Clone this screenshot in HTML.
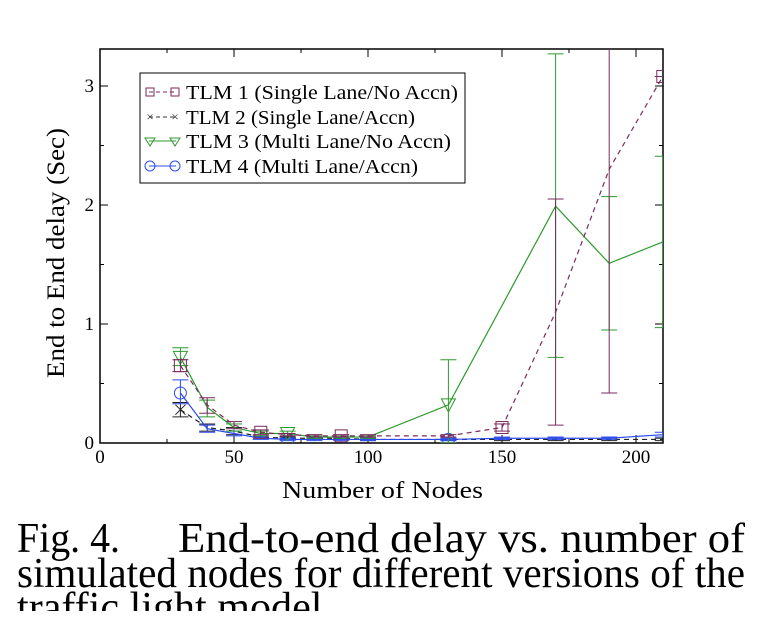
<!DOCTYPE html>
<html><head><meta charset="utf-8"><style>
html,body{margin:0;padding:0;background:#fff;}
svg{display:block;font-family:"Liberation Serif",serif;}
</style></head><body>
<svg id="chart" width="758" height="642" viewBox="0 0 758 642">
<defs><clipPath id="pc"><rect x="100" y="49" width="563" height="394"/></clipPath></defs>
<rect x="100" y="49" width="563" height="394" fill="none" stroke="#000" stroke-width="1.5"/>
<g id="axes"></g>
<g id="series" clip-path="url(#pc)"></g>
<g>
<rect x="140" y="73" width="325" height="110" fill="#fff" stroke="#000" stroke-width="1"/>
<g><line x1="149" y1="92" x2="176" y2="92" stroke="#7b2a5e" stroke-dasharray="4,3"/><rect x="146" y="88" width="8" height="8" fill="none" stroke="#7b2a5e"/><rect x="171" y="88" width="8" height="8" fill="none" stroke="#7b2a5e"/><text x="186" y="99" font-size="20" textLength="272" lengthAdjust="spacingAndGlyphs">TLM 1 (Single Lane/No Accn)</text></g>
<g><line x1="149" y1="117" x2="176" y2="117" stroke="#333" stroke-dasharray="4,3"/><text x="150" y="121" font-size="13" text-anchor="middle" fill="#333">×</text><text x="175" y="121" font-size="13" text-anchor="middle" fill="#333">×</text><text x="186" y="124" font-size="20" textLength="229" lengthAdjust="spacingAndGlyphs">TLM 2 (Single Lane/Accn)</text></g>
<g><line x1="149" y1="141" x2="176" y2="141" stroke="#2e9a2e"/><path d="M145 138 L155 138 L150 146 Z M170 138 L180 138 L175 146 Z" fill="none" stroke="#2e9a2e"/><text x="186" y="148" font-size="20" textLength="265" lengthAdjust="spacingAndGlyphs">TLM 3 (Multi Lane/No Accn)</text></g>
<g><line x1="149" y1="166" x2="176" y2="166" stroke="#2b4bf0"/><circle cx="150" cy="166" r="5" fill="none" stroke="#2b4bf0"/><circle cx="175" cy="166" r="5" fill="none" stroke="#2b4bf0"/><text x="186" y="173" font-size="20" textLength="232" lengthAdjust="spacingAndGlyphs">TLM 4 (Multi Lane/Accn)</text></g>
</g>
<text x="282" y="498" font-size="24" textLength="201" lengthAdjust="spacingAndGlyphs">Number of Nodes</text>
<text transform="translate(64,378) rotate(-90)" font-size="25" textLength="250" lengthAdjust="spacingAndGlyphs">End to End delay (Sec)</text>
<g font-size="42">
<text x="17" y="552" textLength="103" lengthAdjust="spacingAndGlyphs">Fig. 4.</text>
<text x="178" y="552" textLength="567" lengthAdjust="spacingAndGlyphs">End-to-end delay vs. number of</text>
<text x="17" y="587" textLength="728" lengthAdjust="spacingAndGlyphs">simulated nodes for different versions of the</text>
<text x="17" y="621" textLength="316" lengthAdjust="spacingAndGlyphs">traffic light model.</text>
</g>
<rect x="0" y="611" width="758" height="31" fill="#fff"/>
</svg>
<script>
const xs=[30,40,50,60,70,80,90,100,130,150,170,190,210];
const tlm1=[0.65,0.32,0.15,0.09,0.07,0.06,0.06,0.06,0.06,0.13,1.1,2.3,3.08];
const tlm2=[0.28,0.13,0.1,0.05,0.04,0.04,0.04,0.03,0.03,0.03,0.03,0.03,0.03];
const tlm3=[0.72,0.3,0.13,0.08,0.08,0.05,0.05,0.05,0.32,null,1.99,1.51,1.69];
const tlm4=[0.42,0.12,0.08,0.04,0.03,0.03,0.03,0.03,0.03,0.04,0.04,0.04,0.07];
const tlm1Lo=[0.6,0.25,0.12,0.07,0.06,0.05,0.05,0.05,0.05,0.1,0.15,0.42,3.08];
const tlm1Hi=[0.7,0.38,0.18,0.11,0.08,0.07,0.07,0.07,0.07,0.16,2.05,3.4,3.08];
const tlm3Lo=[0.65,0.22,0.1,0.06,0.06,0.04,0.04,0.04,0.0,null,0.72,0.95,0.97];
const tlm3Hi=[0.8,0.36,0.16,0.1,0.1,0.06,0.06,0.06,0.7,null,3.27,2.07,2.41];
const tlm4Lo=[0.33,0.09,0.06,0.03,0.02,0.02,0.02,0.02,0.02,0.03,0.03,0.03,0.05];
const tlm4Hi=[0.53,0.15,0.1,0.05,0.04,0.04,0.04,0.04,0.04,0.05,0.05,0.05,0.09];
const tlm2Lo=[0.22,0.1,0.07,0.04,0.03,0.03,0.03,0.02,0.02,0.02,0.02,0.02,0.02];
const tlm2Hi=[0.34,0.16,0.13,0.06,0.05,0.05,0.05,0.04,0.04,0.04,0.04,0.04,0.04];
const xTicks=[0,50,100,150,200];
const yTicks=[0,1,2,3];
const mk1=[30,60,90,150,210], mk3=[30,70,130], mk4=[30,70,130,200], mk2=[30];
const X=v=>100+v*2.68, Y=v=>443-v*119;
const NS="http://www.w3.org/2000/svg";
function el(tag,attrs,parent){const e=document.createElementNS(NS,tag);for(const k in attrs)e.setAttribute(k,attrs[k]);parent.appendChild(e);return e;}
const ax=document.getElementById('axes'), sg=document.getElementById('series');
xTicks.forEach(t=>{
  const l=el('line',{x1:X(t),x2:X(t),y1:443,y2:435,stroke:'#000'},ax);
  
  
  el('line',{x1:X(t),x2:X(t),y1:49,y2:57,stroke:'#000'},ax);
  const tx=el('text',{x:X(t),y:463,'font-size':19,'text-anchor':'middle'},ax);tx.textContent=t;
  
  
});
for(let t=25;t<=200;t+=50){el('line',{x1:X(t),x2:X(t),y1:443,y2:439,stroke:'#000'},ax);el('line',{x1:X(t),x2:X(t),y1:49,y2:53,stroke:'#000'},ax);}
yTicks.forEach(t=>{
  const l=el('line',{x1:100,x2:108,y1:Y(t),y2:Y(t),stroke:'#000'},ax);
  
  
  el('line',{x1:663,x2:655,y1:Y(t),y2:Y(t),stroke:'#000'},ax);
  const tx=el('text',{x:94,y:Y(t)+6,'font-size':19,'text-anchor':'end'},ax);tx.textContent=t;
  
  
});
for(let t=0.5;t<3.3;t+=1){el('line',{x1:100,x2:104,y1:Y(t),y2:Y(t),stroke:'#000'},ax);el('line',{x1:663,x2:659,y1:Y(t),y2:Y(t),stroke:'#000'},ax);}
function series(name,vals,lo,hi,color,dash,marks,mtype){
  const g=el('g',{},sg);
  
  
  xs.forEach((x,i)=>{ if(vals[i]==null||lo[i]==null)return;
    el('line',{x1:X(x),x2:X(x),y1:Y(lo[i]),y2:Y(hi[i]),stroke:color},g);
    [lo[i],hi[i]].forEach(v=>el('line',{x1:X(x)-8,x2:X(x)+8,y1:Y(v),y2:Y(v),stroke:color},g));
  });
  const pts=xs.map((x,i)=>vals[i]==null?null:X(x)+','+Y(vals[i])).filter(p=>p).join(' ');
  const pl=el('polyline',{points:pts,fill:'none',stroke:color,'stroke-width':1.2},g);
  if(dash)pl.setAttribute('stroke-dasharray',dash);
  marks.forEach(m=>{const i=xs.indexOf(m);const cx=X(m),cy=Y(vals[i]);let s;
    if(mtype==='sq')s=el('rect',{x:cx-6,y:cy-6,width:12,height:12,fill:'none',stroke:color},g);
    else if(mtype==='tri')s=el('path',{d:`M${cx-7} ${cy-6} L${cx+7} ${cy-6} L${cx} ${cy+7} Z`,fill:'none',stroke:color},g);
    else if(mtype==='ci')s=el('circle',{cx:cx,cy:cy,r:6,fill:'none',stroke:color},g);
    else {s=el('path',{d:`M${cx-5} ${cy-5} L${cx+5} ${cy+5} M${cx-5} ${cy+5} L${cx+5} ${cy-5}`,stroke:color},g);}
    
    
  });
}
series('series-tlm2',tlm2,tlm2Lo,tlm2Hi,'#222','5,4',mk2,'x');
series('series-tlm4',tlm4,tlm4Lo,tlm4Hi,'#2b4bf0',null,mk4,'ci');
series('series-tlm3',tlm3,tlm3Lo,tlm3Hi,'#2e9a2e',null,mk3,'tri');
series('series-tlm1',tlm1,tlm1Lo,tlm1Hi,'#7b2a5e','5,4',mk1,'sq');
</script>
</body></html>
